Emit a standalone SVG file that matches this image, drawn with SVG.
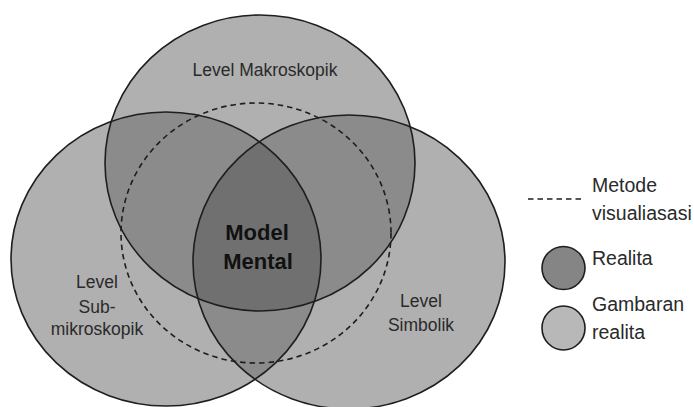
<svg xmlns="http://www.w3.org/2000/svg" width="694" height="407" viewBox="0 0 694 407">
<style>
.t{font-family:"Liberation Sans",Arial,sans-serif;font-size:17.5px;fill:#2a2a2a}
.l{font-family:"Liberation Sans",Arial,sans-serif;font-size:19.5px;fill:#2a2a2a}
.b{font-family:"Liberation Sans",Arial,sans-serif;font-size:22px;font-weight:bold;fill:#111}
.o{fill:none;stroke:#1e1e1e;stroke-width:1.6}
.d{fill:none;stroke:#1e1e1e;stroke-width:1.6;stroke-dasharray:5.5 4}
</style>
<defs>
<clipPath id="cT"><ellipse cx="260" cy="163" rx="155" ry="148"/></clipPath>
<clipPath id="cL"><ellipse cx="166" cy="259" rx="155" ry="147"/></clipPath>
<clipPath id="cR"><ellipse cx="349" cy="262" rx="156" ry="147"/></clipPath>
</defs>
<rect width="694" height="407" fill="#fff"/>
<g id="fills">
<ellipse cx="260" cy="163" rx="155" ry="148" fill="#b0b0b0"/>
<ellipse cx="166" cy="259" rx="155" ry="147" fill="#b0b0b0"/>
<ellipse cx="349" cy="262" rx="156" ry="147" fill="#b0b0b0"/>
<ellipse cx="260" cy="163" rx="155" ry="148" fill="#8b8b8b" clip-path="url(#cL)"/>
<ellipse cx="260" cy="163" rx="155" ry="148" fill="#8b8b8b" clip-path="url(#cR)"/>
<ellipse cx="166" cy="259" rx="155" ry="147" fill="#8b8b8b" clip-path="url(#cR)"/>
<g clip-path="url(#cR)"><ellipse cx="260" cy="163" rx="155" ry="148" fill="#707070" clip-path="url(#cL)"/></g>
</g>
<g id="top">
<ellipse class="o" cx="260" cy="163" rx="155" ry="148"/>
<text class="t" x="265" y="76" text-anchor="middle">Level Makroskopik</text>
</g>
<g id="left">
<ellipse class="o" cx="166" cy="259" rx="155" ry="147"/>
<text class="t" x="97" y="288" text-anchor="middle">Level</text>
<text class="t" x="97" y="313" text-anchor="middle">Sub-</text>
<text class="t" x="97" y="335" text-anchor="middle">mikroskopik</text>
</g>
<g id="right">
<ellipse class="o" cx="349" cy="262" rx="156" ry="147"/>
<text class="t" x="421" y="307" text-anchor="middle">Level</text>
<text class="t" x="421" y="331" text-anchor="middle">Simbolik</text>
</g>
<g id="visualisasi">
<ellipse class="d" cx="256" cy="233" rx="135" ry="130"/>
</g>
<g id="center">
<text class="b" x="257" y="240" text-anchor="middle">Model</text>
<text class="b" x="258" y="269" text-anchor="middle">Mental</text>
</g>
<g id="legend">
<line class="d" x1="528" y1="199" x2="584" y2="199"/>
<text class="l" x="592" y="192">Metode</text>
<text class="l" x="592" y="220">visualiasasi</text>
<ellipse cx="563.5" cy="268" rx="21.5" ry="21.5" fill="#858585" stroke="#1e1e1e" stroke-width="1.6"/>
<text class="l" x="592" y="265">Realita</text>
<ellipse cx="563.5" cy="328" rx="21.5" ry="22" fill="#b8b8b8" stroke="#1e1e1e" stroke-width="1.6"/>
<text class="l" x="592" y="311">Gambaran</text>
<text class="l" x="592" y="339">realita</text>
</g>
</svg>
